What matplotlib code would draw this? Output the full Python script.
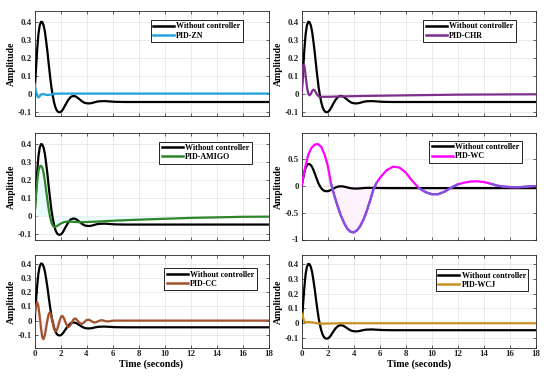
import matplotlib
matplotlib.use("Agg")
import matplotlib.pyplot as plt
import numpy as np

# ---------------- data ----------------
t_open = [0, 0.1, 0.2, 0.3, 0.4, 0.5, 0.6, 0.7, 0.8, 0.9, 1.0, 1.1, 1.2, 1.3, 1.4, 1.5,
          1.6, 1.7, 1.8, 1.9, 2.0, 2.1, 2.2, 2.4, 2.6, 2.8, 3.0, 3.2, 3.4, 3.6, 3.8, 4.0,
          4.2, 4.4, 4.6, 4.8, 5.0, 5.4, 5.8, 6.2, 7, 8, 10, 12, 14, 16, 18]
y_open = [0.0, 0.12, 0.24, 0.33, 0.38, 0.40, 0.398, 0.38, 0.345, 0.29, 0.23, 0.16, 0.095,
          0.035, -0.01, -0.048, -0.075, -0.092, -0.101, -0.104, -0.103, -0.097, -0.087,
          -0.06, -0.035, -0.018, -0.013, -0.017, -0.028, -0.040, -0.050, -0.054, -0.055,
          -0.053, -0.049, -0.045, -0.043, -0.042, -0.044, -0.046, -0.047, -0.047, -0.047,
          -0.047, -0.047, -0.047, -0.047]

t_zn = [0, 0.1, 0.2, 0.3, 0.4, 0.5, 0.7, 0.9, 1.1, 1.3, 1.6, 2.0, 3.0, 18]
y_zn = [0.056, 0.02, -0.012, -0.022, -0.015, -0.005, -0.003, -0.007, -0.008, -0.004,
        -0.001, 0.0, 0.0, 0.0]

t_chr = [0, 0.05, 0.1, 0.15, 0.2, 0.25, 0.3, 0.4, 0.5, 0.6, 0.7, 0.8, 0.9, 1.0, 1.1,
         1.2, 1.3, 1.4, 1.6, 2.0, 3.0, 5.0, 8.0, 12.0, 18.0]
y_chr = [0.0, 0.09, 0.145, 0.16, 0.155, 0.13, 0.10, 0.04, 0.0, -0.01, -0.002, 0.014,
         0.022, 0.018, 0.005, -0.008, -0.015, -0.017, -0.018, -0.018, -0.016, -0.013,
         -0.010, -0.006, -0.004]

t_amigo = [0, 0.1, 0.2, 0.3, 0.4, 0.5, 0.6, 0.7, 0.8, 0.9, 1.0, 1.1, 1.2, 1.3, 1.4, 1.5,
           1.6, 1.8, 2.0, 2.3, 2.6, 3.0, 3.5, 4, 5, 6, 7, 8, 10, 12, 14, 16, 18]
y_amigo = [0.0, 0.1, 0.19, 0.25, 0.275, 0.28, 0.27, 0.24, 0.195, 0.14, 0.085, 0.035,
           -0.005, -0.035, -0.052, -0.06, -0.06, -0.052, -0.042, -0.033, -0.03, -0.032,
           -0.034, -0.033, -0.030, -0.026, -0.023, -0.020, -0.015, -0.010, -0.007,
           -0.004, -0.003]

t_wc = [0, 0.25, 0.5, 0.75, 1.0, 1.25, 1.5, 1.75, 2.0, 2.25, 2.5, 2.75, 3.0, 3.25, 3.5,
        3.75, 4.0, 4.25, 4.5, 4.75, 5.0, 5.25, 5.5, 5.75, 6.0, 6.5, 7.0, 7.5, 8.0, 8.5,
        9.0, 9.5, 10.0, 10.5, 11.0, 11.5, 12.0, 12.5, 13.0, 13.5, 14.0, 14.5, 15.0, 15.5,
        16.0, 16.5, 17.0, 17.5, 18.0]
y_wc = [0.0, 0.32, 0.57, 0.70, 0.76, 0.77, 0.72, 0.58, 0.37, 0.04, -0.18, -0.375, -0.55,
        -0.69, -0.80, -0.856, -0.868, -0.83, -0.75, -0.63, -0.47, -0.28, -0.08, 0.05,
        0.14, 0.28, 0.35, 0.337, 0.24, 0.085, -0.045, -0.12, -0.161, -0.159, -0.11,
        -0.035, 0.023, 0.055, 0.076, 0.079, 0.065, 0.037, 0.0, -0.018, -0.028, -0.03,
        -0.025, -0.015, -0.008]

t_cc = [0, 0.1, 0.2, 0.3, 0.4, 0.5, 0.6, 0.67, 0.7, 0.8, 0.9, 1.0, 1.1, 1.17, 1.2, 1.3,
        1.4, 1.5, 1.6, 1.7, 1.8, 1.9, 2.0, 2.1, 2.2, 2.3, 2.4, 2.5, 2.6, 2.7, 2.8, 2.9,
        3.0, 3.1, 3.2, 3.4, 3.6, 3.8, 4.0, 4.2, 4.4, 4.6, 4.8, 5.0, 5.2, 5.4, 5.6, 5.8,
        6.0, 6.2, 7, 18]
y_cc = [0.05, 0.09, 0.13, 0.102, 0.030, -0.055, -0.116, -0.13, -0.128, -0.101, -0.048,
        0.009, 0.048, 0.057, 0.0555, 0.031, -0.013, -0.056, -0.077, -0.071, -0.046,
        -0.012, 0.018, 0.033, 0.028, 0.009, -0.016, -0.037, -0.045, -0.040, -0.026,
        -0.008, 0.0075, 0.015, 0.012, -0.010, -0.025, -0.014, 0.004, 0.006, -0.005,
        -0.014, -0.009, 0.0, 0.003, -0.002, -0.006, -0.004, -0.001, 0.0, 0.0, 0.0]

t_wcj = [0, 0.1, 0.2, 0.3, 0.5, 0.8, 1.0, 1.3, 1.6, 2.0, 3.0, 18]
y_wcj = [0.065, 0.04, 0.01, 0.006, 0.008, 0.006, 0.003, -0.002, -0.003, -0.002, 0.0, 0.0]

labels = ["PID-ZN", "PID-CHR", "PID-AMIGO", "PID-WC", "PID-CC", "PID-WCJ"]
open_label = "Without controller"
x_ticks = list(range(0, 19, 2))
y_ticks_small = [-0.1, 0, 0.1, 0.2, 0.3, 0.4]
y_ticks_wc = [-1, -0.5, 0, 0.5]

# ---------------- style ----------------
FONT = "Liberation Serif"
plt.rcParams["font.family"] = [FONT, "DejaVu Serif"]
plt.rcParams["font.weight"] = "bold"

fig = plt.figure(figsize=(5.5, 3.77), dpi=100)
W, H = 550.0, 377.0

cols = [(34.5, 268.5), (301.7, 536.0)]
rows = [(11.0, 116.0), (133.3, 239.5), (255.0, 347.7)]

series = [
    (t_zn, y_zn, "#22a3e0"),
    (t_chr, y_chr, "#7e2f8e"),
    (t_amigo, y_amigo, "#2f852a"),
    (t_wc, y_wc, "#ff00ff"),
    (t_cc, y_cc, "#a0522d"),
    (t_wcj, y_wcj, "#c98f1f"),
]
ylims = [(-0.125, 0.46), (-0.125, 0.46), (-0.13, 0.46), (-1.0, 0.97),
         (-0.19, 0.46), (-0.165, 0.46)]
leg_anchor = [(0.891, 0.914), (0.913, 0.914), (0.928, 0.921), (0.939, 0.93),
              (0.95, 0.857), (0.967, 0.846)]

fs = 6.4
for i in range(6):
    r, c = divmod(i, 2)
    x0, x1 = cols[c]
    y0, y1 = rows[r]
    ax = fig.add_axes([x0 / W, 1 - y1 / H, (x1 - x0) / W, (y1 - y0) / H])
    ts, ys, col = series[i]
    ts = np.array(ts)
    ys = np.array(ys)

    # faint shading
    if i == 2:
        ax.fill_between(ts, ys, 0, color="#e9fbfb", lw=0, zorder=1)
    if i == 3:
        ax.fill_between(ts, ys, 0, where=ys < 0, color="#fef2fc", lw=0, zorder=1)
    if i == 4:
        ax.fill_between(ts, ys, 0, color="#fde9f6", lw=0, zorder=1)

    ax.plot(t_open, y_open, color="black", lw=1.6, label=open_label, zorder=3)
    ax.plot(ts, ys, color=col, lw=1.6, label=labels[i], zorder=4)
    if i == 3:
        ax.plot(ts, np.ma.masked_where(ys > 0.05, ys), color="#7a55dd", lw=1.6, zorder=5)

    ax.set_xlim(0, 18)
    ax.set_ylim(*ylims[i])
    ax.set_xticks(x_ticks)
    if i == 3:
        ax.set_yticks(y_ticks_wc)
        ax.set_yticklabels(["-1", "-0.5", "0", "0.5"])
    else:
        ax.set_yticks(y_ticks_small)
        ax.set_yticklabels(["-0.1", "0", "0.1", "0.2", "0.3", "0.4"])
    ax.grid(True, color="#e3e3e3", lw=0.5)
    ax.set_axisbelow(True)
    ax.tick_params(direction="in", length=2, width=0.5, labelsize=fs, pad=2,
                   top=True, right=True, colors="#262626")
    for s in ax.spines.values():
        s.set_linewidth(0.6)
        s.set_color("#262626")
    if r < 2:
        ax.set_xticklabels([])
    else:
        ax.set_xlabel("Time (seconds)", fontsize=7.2, fontweight="bold", labelpad=1)
    ax.set_ylabel("Amplitude", fontsize=7.0, fontweight="bold", labelpad=1)
    for lab in ax.get_xticklabels() + ax.get_yticklabels():
        lab.set_fontweight("bold")

    h, l = ax.get_legend_handles_labels()
    leg = ax.legend(h[:2], l[:2], loc="upper right", bbox_to_anchor=leg_anchor[i],
                    frameon=True, fancybox=False, framealpha=1,
                    edgecolor="black", borderaxespad=0, handlelength=2.6,
                    handletextpad=0.3, borderpad=0.3, labelspacing=0.15,
                    prop={"weight": "bold", "size": 5.8, "family": FONT})
    leg.get_frame().set_linewidth(0.6)
    for ln in leg.get_lines():
        ln.set_linewidth(1.8)

fig.savefig("out.png", dpi=100)
